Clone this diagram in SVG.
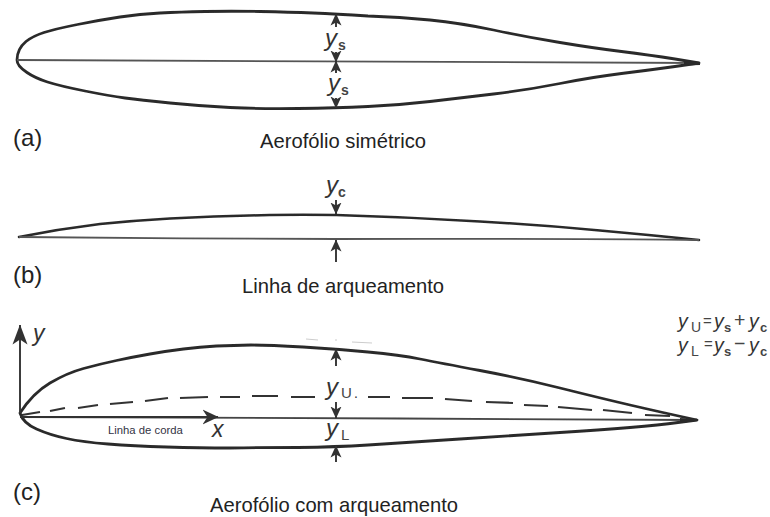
<svg xmlns="http://www.w3.org/2000/svg" width="770" height="517" viewBox="0 0 770 517">
<style>
text{font-family:"Liberation Sans",Arial,sans-serif;fill:#222}
.cap{font-size:20.2px}
.tag{font-size:24px}
.v{font-size:24px;font-style:italic;fill:#333}
.f{font-size:23px;font-style:italic;fill:#333}
.g{font-size:19.500px;font-style:italic;fill:#333}
.s{font-size:14px;font-style:normal;font-weight:bold;fill:#444}
.fs{font-size:13px;font-style:normal;font-weight:bold;fill:#444}
.u{font-size:15px;font-style:normal;fill:#444}
.fu{font-size:14px;font-style:normal;fill:#444}
.eq{font-size:15px;font-style:normal;fill:#444}
.op{font-size:19.500px;font-style:normal;fill:#444}
.foil{fill:none;stroke:#2b2b2b;stroke-width:2.8;stroke-linecap:round;stroke-linejoin:round}
.thin{fill:none;stroke:#555;stroke-width:1.8}
.arrow{fill:none;stroke:#333;stroke-width:1.9}
.soft{filter:url(#b)}
</style>
<defs>
<filter id="b" x="-5%" y="-5%" width="110%" height="110%"><feGaussianBlur stdDeviation="0.5"/></filter>
<marker id="ah" viewBox="0 0 12 12" refX="11.5" refY="6" markerWidth="12" markerHeight="12" markerUnits="userSpaceOnUse" orient="auto"><path d="M0 0.5L12 6L0 11.5L3 6Z" fill="#333"/></marker>
<marker id="ahy" viewBox="0 0 20 16" refX="19.5" refY="8" markerWidth="20" markerHeight="16" markerUnits="userSpaceOnUse" orient="auto"><path d="M0 0.5L20 8L0 15.5L5 8Z" fill="#333"/></marker>
<marker id="ahx" viewBox="0 0 16 16" refX="15.5" refY="8" markerWidth="16" markerHeight="16" markerUnits="userSpaceOnUse" orient="auto"><path d="M0 0.5L16 8L0 15.5L5 8Z" fill="#333"/></marker>
</defs>
<g id="airfoil-a" class="soft">
<path class="foil" d="M17 60Q17 49 26 41.500Q33 36 44 32.500Q55 29 77.500 24.500Q100 20 120 17Q140 14 160 13Q180 12 205 11.500Q230 11 260 11.500Q290 12 313 13Q336 14 368 16Q400 17 430 20Q460 23 493.500 30Q527 37 560 42.500Q593 48 621.500 51.500Q650 55 675 59L699 63L675 66.500Q650 70 621.500 73.500Q593 77 560 83.500Q527 90 493.500 94Q460 98 430 101.500Q400 105 368 106.500Q336 108 298 108.500Q260 109 230 107.500Q200 106 170 103Q140 100 125 98Q110 96 85 91Q60 86 47.500 82Q35 78 27 72.500Q17 66 17 60Z"/>
<path class="thin" d="M17 60L700 63"/>
<path d="M684 60.500L700 62L700 65L684 65.500Z" fill="#2b2b2b"/>
</g>
<text class="tag" id="tag-a" x="13" y="146">(a)</text>
<text class="cap" id="cap-a" x="260" y="148">Aerofólio simétrico</text>
<g id="airfoil-b" class="soft">
<path class="foil" style="stroke-width:2.5" d="M19 237Q59 229 100 224Q135 220.500 170 218.500Q220 216 270 215Q303 214.500 336 215Q408 217 480 221.500Q540 225 600 230.500Q650 235 699 240"/>
<path class="thin" d="M19 237C100 238 250 239 336 239C450 239 600 238 699 240"/>
</g>
<text class="tag" id="tag-b" x="13" y="283">(b)</text>
<text class="cap" id="cap-b" x="242" y="293">Linha de arqueamento</text>
<g id="airfoil-c" class="soft">
<path class="foil" d="M20 413Q33 393 50 383Q67 373 83.500 368.500Q100 364 116.500 360.500Q133 357 150 354Q167 351 183.500 349Q200 347 216.500 346Q233 345.500 251 345Q270 345 303 347Q336 349 368 352Q400 355 420 359Q440 363 480 370.500Q520 378 560 388Q600 398 630 405Q660 412 697 420L678 422.500Q660 425 630 427.500Q600 430 560 432.500Q520 435 460 439Q400 443 368 445Q336 447 298 447.500Q260 447.500 230 448Q200 448 166.500 447Q133 446 108 444Q83 442 66.500 438.500Q50 435 36.500 429Q23 423 20 413Z"/>
<path class="thin" style="stroke:#444" d="M20 417L400 418.500L697 420"/>
<path fill="none" stroke="#333" stroke-width="2.2" d="M22 415L40 412M50 411L65 408M78 408L98 405M110 404L133 402M145 401L168 398M180 398L208 397M220 397L240 397M252 396L278 396M291 397L315 397M368 397L390 397M402 398L433 398M445 399L472 401M486 402L513 403M524 405L548 406M558 407L592 410M603 410L632 413M645 415L670 416"/>
<path d="M680 418L697 419L697 421L680 423Z" fill="#2b2b2b"/>
<path fill="none" stroke="#ccc" stroke-width="1" d="M306 339L318 340M335 340L337 340M352 342L372 343"/>
</g>
<text class="tag" id="tag-c" x="13" y="500">(c)</text>
<text class="cap" id="cap-c" x="210" y="512">Aerofólio com arqueamento</text>
<g id="connectors" class="soft">
<path class="arrow" marker-end="url(#ah)" d="M336 27L336 14"/>
<path class="arrow" marker-end="url(#ah)" d="M336 73L336 61"/>
<path class="arrow" marker-end="url(#ah)" d="M336 52L336 62"/>
<path class="arrow" marker-end="url(#ah)" d="M336 98L336 108"/>
<path class="arrow" marker-end="url(#ah)" d="M336 200L336 214"/>
<path class="arrow" marker-end="url(#ah)" d="M336 262L336 240"/>
<path class="arrow" marker-end="url(#ah)" d="M336 366L336 349"/>
<path class="arrow" marker-end="url(#ah)" d="M336 402L336 418"/>
<path class="arrow" marker-end="url(#ah)" d="M336 462L336 446"/>
<path class="arrow" marker-end="url(#ahy)" d="M20 413L20 325"/>
<path class="arrow" marker-end="url(#ahx)" d="M20 417L218 417"/>
</g>
<g id="labels">
<text class="v" x="325" y="46">y<tspan class="s" x="338" y="50">s</tspan></text>
<text class="v" x="328" y="91">y<tspan class="s" x="341" y="95">s</tspan></text>
<text class="v" x="326" y="193">y<tspan class="s" x="338" y="197">c</tspan></text>
<text class="v" x="326" y="395">y<tspan class="u" x="341" y="398">U</tspan><tspan style="font-size:14px;font-style:normal" x="354" y="398">.</tspan></text>
<text class="v" x="326" y="436">y<tspan class="u" x="341" y="440">L</tspan></text>
<text class="f" x="33" y="341">y</text>
<text class="f" x="212" y="437">x</text>
<text x="108" y="434" style="font-size:11.3px;fill:#334">Linha de corda</text>
<text class="g" x="678" y="328">y<tspan class="fu" x="691" y="332">U</tspan><tspan class="eq" x="703" y="326">=</tspan><tspan x="714" y="328">y</tspan><tspan class="fs" x="724" y="332">s</tspan><tspan class="op" x="734" y="327">+</tspan><tspan x="749" y="328">y</tspan><tspan class="fs" x="760" y="332">c</tspan></text>
<text class="g" x="678" y="352">y<tspan class="fu" x="691" y="356">L</tspan><tspan class="eq" x="704" y="349">=</tspan><tspan x="714" y="352">y</tspan><tspan class="fs" x="724" y="356">s</tspan><tspan class="op" x="734" y="350">−</tspan><tspan x="749" y="352">y</tspan><tspan class="fs" x="760" y="356">c</tspan></text>
</g>
</svg>
